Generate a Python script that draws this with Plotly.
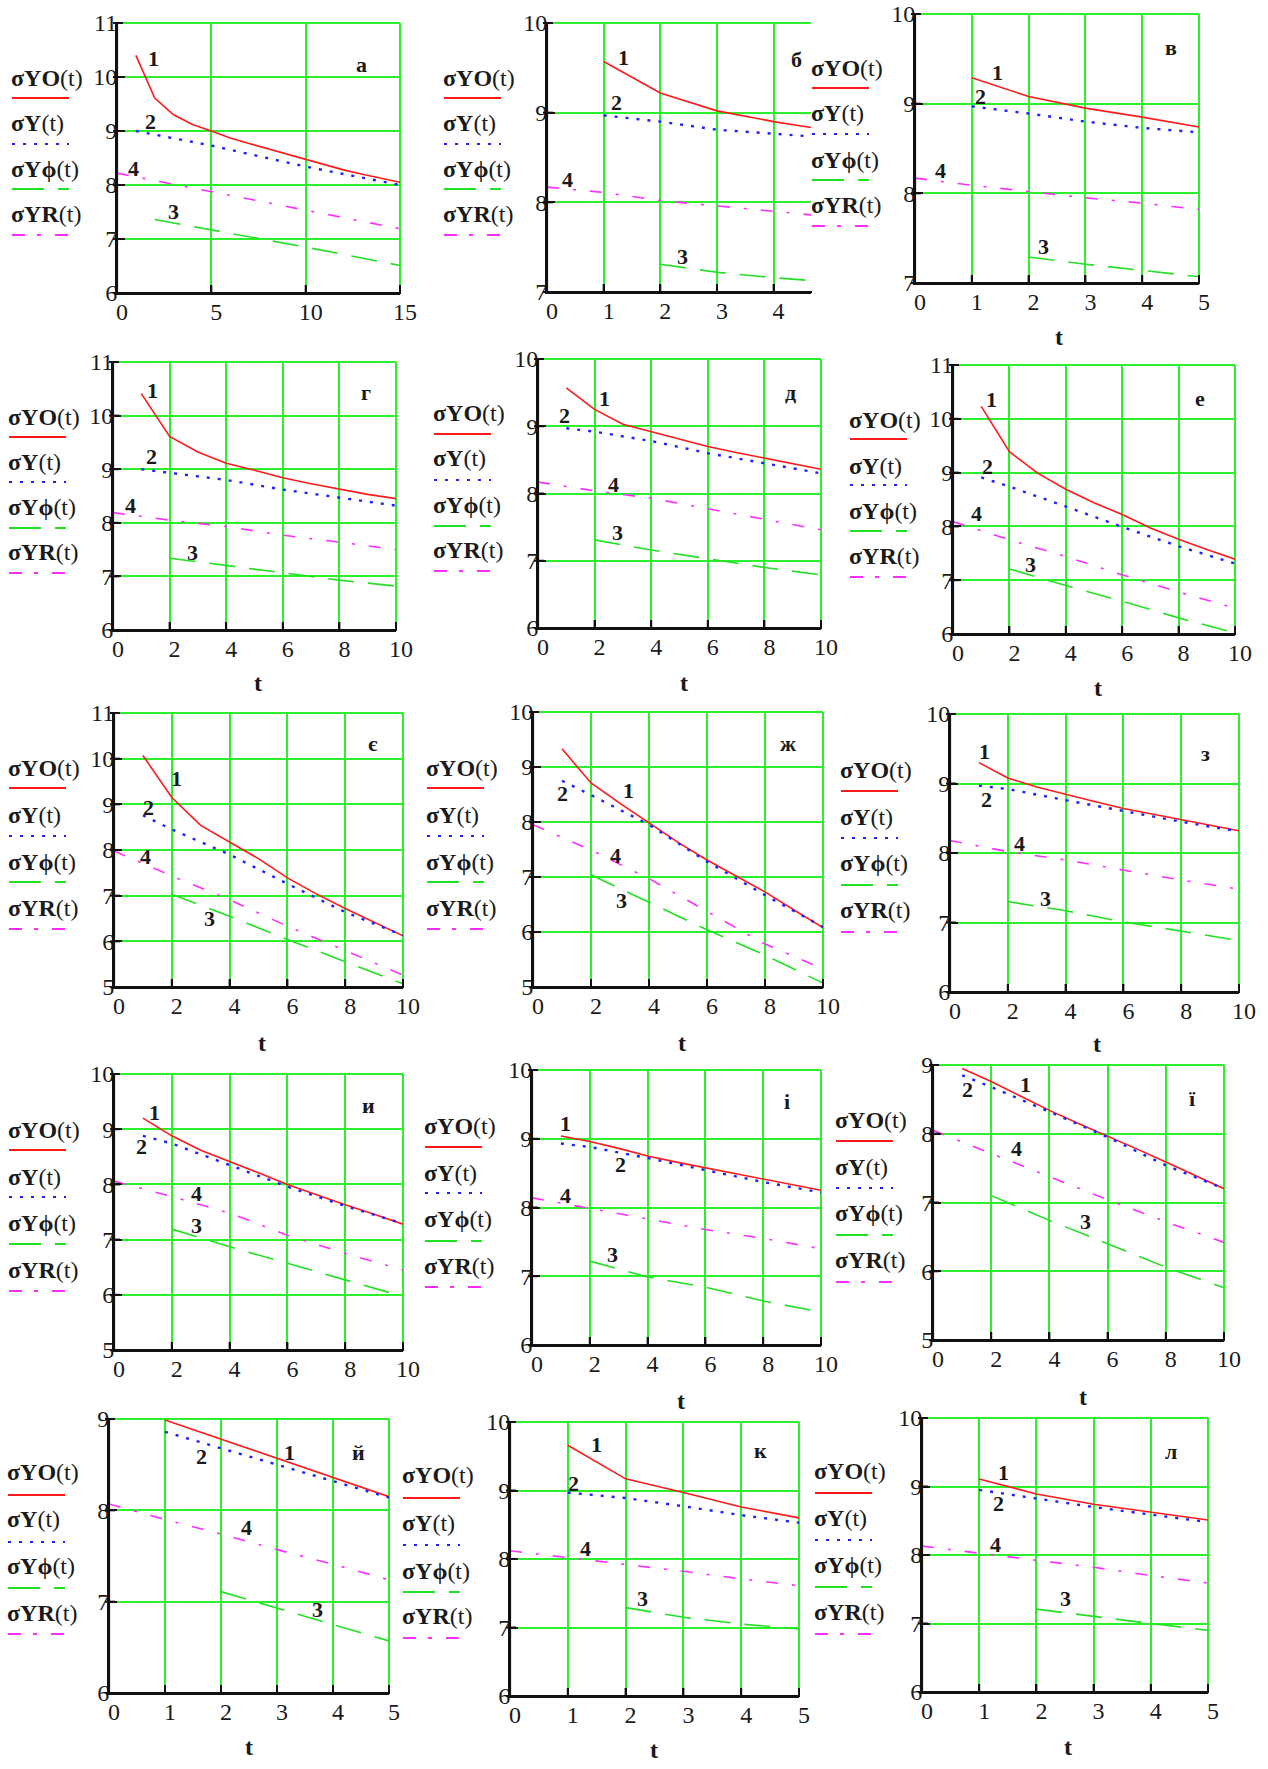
import plotly.graph_objects as go

# ---------------- data ----------------
PANEL_NAMES = ["а", "б", "в", "г", "д", "е", "є", "ж", "з", "и", "і", "ї", "й", "к", "л"]
SERIES_NAMES = ["σYO", "σY", "σYϕ", "σYR"]
CURVE_NUMBERS = ["1", "2", "3", "4"]

# time grids (t)
T1_5 = [1, 2, 3, 4, 5]
T0_5 = [0, 1, 2, 3, 4, 5]
T2_5 = [2, 3, 4, 5]
T1_10 = [1, 2, 3, 4, 5, 6, 7, 8, 9, 10]
T1_10E = [1, 2, 4, 6, 8, 10]
T0_10 = [0, 2, 4, 6, 8, 10]
T2_10 = [2, 4, 6, 8, 10]
T1_15 = [1, 2, 3, 4, 5, 6, 7, 8, 9, 10, 11, 12, 13, 14, 15]
T1_15B = [1, 5, 10, 15]
T0_15 = [0, 5, 10, 15]
T2_15 = [2, 5, 10, 15]

# panel а
a_yo = [10.40, 9.61, 9.30, 9.12, 9.00, 8.87, 8.77, 8.67, 8.57, 8.47, 8.37, 8.28, 8.20, 8.12, 8.05]
a_y = [9.00, 8.73, 8.34, 8.00]
a_yf = [7.36, 7.17, 6.85, 6.51]
a_yr = [8.22, 7.88, 7.53, 7.19]
# panel б
b_yo = [9.57, 9.22, 9.02, 8.90, 8.80]
b_y = [8.97, 8.90, 8.81, 8.76, 8.72]
b_yf = [7.31, 7.22, 7.16, 7.11]
b_yr = [8.17, 8.11, 8.02, 7.96, 7.90, 7.84]
# panel в
v_yo = [9.29, 9.08, 8.95, 8.85, 8.74]
v_y = [8.97, 8.89, 8.80, 8.73, 8.68]
v_yf = [7.29, 7.21, 7.14, 7.07]
v_yr = [8.17, 8.09, 8.02, 7.95, 7.89, 7.82]
# panel г
g_yo = [10.41, 9.61, 9.32, 9.11, 8.98, 8.84, 8.73, 8.63, 8.53, 8.45]
g_y = [9.00, 8.93, 8.80, 8.62, 8.47, 8.32]
g_yf = [7.34, 7.20, 7.06, 6.93, 6.82]
g_yr = [8.19, 8.05, 7.93, 7.77, 7.64, 7.50]
# panel д
d_yo = [9.57, 9.25, 9.03, 8.92, 8.81, 8.70, 8.61, 8.53, 8.44, 8.36]
d_y = [8.97, 8.92, 8.78, 8.60, 8.45, 8.30]
d_yf = [7.31, 7.16, 7.03, 6.90, 6.79]
d_yr = [8.17, 8.04, 7.93, 7.77, 7.61, 7.46]
# panel е
e_yo = [10.23, 9.39, 8.99, 8.69, 8.44, 8.22, 7.97, 7.76, 7.57, 7.39]
e_y = [8.91, 8.74, 8.37, 7.99, 7.63, 7.31]
e_yf = [7.21, 6.90, 6.61, 6.30, 6.02]
e_yr = [8.09, 7.75, 7.44, 7.10, 6.78, 6.48]
# panel є
ye_yo = [10.07, 9.15, 8.54, 8.18, 7.81, 7.39, 7.04, 6.72, 6.42, 6.12]
ye_y = [8.76, 8.45, 7.90, 7.26, 6.64, 6.13]
ye_yf = [7.03, 6.55, 6.04, 5.55, 5.07]
ye_yr = [7.98, 7.43, 6.91, 6.33, 5.80, 5.26]
# panel ж
zh_yo = [9.33, 8.71, 8.34, 7.98, 7.63, 7.31, 7.02, 6.73, 6.40, 6.08]
zh_y = [8.75, 8.49, 7.95, 7.28, 6.67, 6.09]
zh_yf = [7.04, 6.54, 6.04, 5.58, 5.07]
zh_yr = [7.95, 7.49, 6.97, 6.37, 5.78, 5.33]
# panel з
z_yo = [9.30, 9.08, 8.95, 8.84, 8.74, 8.64, 8.56, 8.48, 8.40, 8.32]
z_y = [8.97, 8.92, 8.76, 8.60, 8.45, 8.31]
z_yf = [7.30, 7.17, 7.01, 6.88, 6.74]
z_yr = [8.18, 8.02, 7.90, 7.75, 7.61, 7.48]
# panel и
i_yo = [9.20, 8.88, 8.62, 8.42, 8.21, 8.00, 7.81, 7.63, 7.46, 7.28]
i_y = [8.88, 8.74, 8.35, 7.96, 7.61, 7.29]
i_yf = [7.19, 6.87, 6.57, 6.27, 5.97]
i_yr = [8.06, 7.78, 7.48, 7.08, 6.75, 6.45]
# panel і
ii_yo = [9.04, 8.96, 8.86, 8.75, 8.66, 8.58, 8.50, 8.42, 8.33, 8.25]
ii_y = [8.93, 8.88, 8.72, 8.54, 8.37, 8.22]
ii_yf = [7.22, 6.99, 6.84, 6.64, 6.48]
ii_yr = [8.14, 7.99, 7.84, 7.68, 7.55, 7.40]
# panel ї
yi_yo = [8.95, 8.76, 8.55, 8.34, 8.15, 7.97, 7.78, 7.59, 7.39, 7.20]
yi_y = [8.85, 8.68, 8.32, 7.95, 7.54, 7.20]
yi_yf = [7.10, 6.74, 6.40, 6.06, 5.76]
yi_yr = [8.05, 7.71, 7.37, 7.04, 6.72, 6.42]
# panel й
j_yo = [8.99, 8.78, 8.57, 8.36, 8.15]
j_y = [8.86, 8.68, 8.50, 8.32, 8.14]
j_yf = [7.11, 6.93, 6.75, 6.57]
j_yr = [8.07, 7.90, 7.74, 7.57, 7.41, 7.24]
# panel к
k_yo = [9.66, 9.17, 8.97, 8.76, 8.60]
k_y = [8.97, 8.89, 8.77, 8.64, 8.53]
k_yf = [7.29, 7.15, 7.05, 6.98]
k_yr = [8.12, 8.02, 7.93, 7.82, 7.71, 7.61]
# panel л
l_yo = [9.11, 8.89, 8.74, 8.62, 8.51]
l_y = [8.95, 8.82, 8.70, 8.59, 8.48]
l_yf = [7.21, 7.10, 7.00, 6.90]
l_yr = [8.13, 8.03, 7.93, 7.82, 7.70, 7.59]

# ---------------- styling / geometry ----------------
W, H = 1268, 1769
SERIF = "Liberation Serif"
RED, BLUE, GREEN, MAGENTA = "#ff1a1a", "#2020ff", "#22e022", "#ff2cff"
GRID = "#2cf02c"
TXT = "#1a1a1a"
AXIS = "#111111"
TICK_SIZE = 24
LEG_SIZE = 24
NUM_SIZE = 22

LINE_STYLES = [
    dict(color=RED, width=1.6, dash="solid"),
    dict(color=BLUE, width=2.4, dash="3px,8px"),
    dict(color=GREEN, width=1.6, dash="26px,14px"),
    dict(color=MAGENTA, width=1.6, dash="12px,14px,3px,14px"),
]
LEGEND_DASH = ["solid", "3px,8px", "32px,14px", "13px,12px,4px,14px"]

S15 = lambda yo, y, yf, yr: [(T1_15, yo), (T1_15B, y), (T2_15, yf), (T0_15, yr)]
S5 = lambda yo, y, yf, yr: [(T1_5, yo), (T1_5, y), (T2_5, yf), (T0_5, yr)]
S10 = lambda yo, y, yf, yr: [(T1_10, yo), (T1_10E, y), (T2_10, yf), (T0_10, yr)]

panels = [
    dict(box=(117, 400, 23, 293), xr=[0, 15], dx=5, yr=[6, 11], ser=S15(a_yo, a_y, a_yf, a_yr),
         lab=[(1.96, 10.35), (1.8, 9.18), (3.0, 7.51), (0.9, 8.31)], let=(0.89, 0.90),
         leg=(15, [78, 123, 169, 214], [98, 144, 189, 235]), ttl=None, rb=True),
    dict(box=(547, 811, 23, 292), xr=[0, 4.66], dx=1, yr=[7, 10], ser=S5(b_yo, b_y, b_yf, b_yr),
         lab=[(1.35, 9.61), (1.22, 9.11), (2.4, 7.40), (0.36, 8.25)], let=(0.975, 0.92),
         leg=(447, [78, 123, 169, 214], [98, 144, 189, 235]), ttl=None, rb=False),
    dict(box=(915, 1199, 14, 283), xr=[0, 5], dx=1, yr=[7, 10], ser=S5(v_yo, v_y, v_yf, v_yr),
         lab=[(1.45, 9.35), (1.15, 9.08), (2.26, 7.41), (0.45, 8.26)], let=(0.93, 0.93),
         leg=(815, [68, 113, 160, 205], [88, 134, 180, 226]), ttl=(1059, 337), rb=True),
    dict(box=(113, 396, 362, 630), xr=[0, 10], dx=2, yr=[6, 11], ser=S10(g_yo, g_y, g_yf, g_yr),
         lab=[(1.39, 10.47), (1.35, 9.23), (2.8, 7.44), (0.62, 8.33)], let=(0.92, 0.94),
         leg=(12, [417, 462, 507, 552], [437, 482, 528, 573]), ttl=(258, 683), rb=True),
    dict(box=(538, 821, 359, 628), xr=[0, 10], dx=2, yr=[6, 10], ser=S10(d_yo, d_y, d_yf, d_yr),
         lab=[(2.35, 9.41), (0.94, 9.16), (2.82, 7.42), (2.68, 8.13)], let=(0.92, 0.93),
         leg=(437, [413, 458, 505, 550], [434, 480, 526, 571]), ttl=(684, 683), rb=True),
    dict(box=(953, 1235, 365, 634), xr=[0, 10], dx=2, yr=[6, 11], ser=S10(e_yo, e_y, e_yf, e_yr),
         lab=[(1.35, 10.35), (1.24, 9.12), (2.76, 7.29), (0.82, 8.24)], let=(0.90, 0.93),
         leg=(853, [420, 466, 511, 556], [439, 485, 531, 577]), ttl=(1098, 688), rb=True),
    dict(box=(114, 403, 713, 987), xr=[0, 10], dx=2, yr=[5, 11], ser=S10(ye_yo, ye_y, ye_yf, ye_yr),
         lab=[(2.16, 9.56), (1.21, 8.94), (3.29, 6.49), (1.08, 7.86)], let=(0.92, 0.94),
         leg=(12, [768, 815, 862, 908], [788, 836, 882, 929]), ttl=(262, 1043), rb=True),
    dict(box=(533, 823, 712, 987), xr=[0, 10], dx=2, yr=[5, 10], ser=S10(zh_yo, zh_y, zh_yf, zh_yr),
         lab=[(3.31, 8.58), (1.03, 8.51), (3.05, 6.58), (2.85, 7.39)], let=(0.915, 0.94),
         leg=(430, [768, 815, 862, 908], [788, 836, 882, 929]), ttl=(682, 1043), rb=True),
    dict(box=(950, 1239, 714, 992), xr=[0, 10], dx=2, yr=[6, 10], ser=S10(z_yo, z_y, z_yf, z_yr),
         lab=[(1.18, 9.46), (1.26, 8.77), (3.31, 7.35), (2.39, 8.13)], let=(0.905, 0.91),
         leg=(844, [770, 817, 863, 910], [791, 838, 885, 932]), ttl=(1097, 1044), rb=True),
    dict(box=(114, 403, 1074, 1350), xr=[0, 10], dx=2, yr=[5, 10], ser=S10(i_yo, i_y, i_yf, i_yr),
         lab=[(1.41, 9.30), (0.95, 8.68), (2.85, 7.25), (2.85, 7.84)], let=(0.91, 0.94),
         leg=(12, [1130, 1177, 1223, 1270], [1150, 1197, 1244, 1291]), ttl=None, rb=True),
    dict(box=(532, 821, 1070, 1345), xr=[0, 10], dx=2, yr=[6, 10], ser=S10(ii_yo, ii_y, ii_yf, ii_yr),
         lab=[(1.17, 9.22), (3.07, 8.62), (2.8, 7.32), (1.15, 8.18)], let=(0.90, 0.94),
         leg=(428, [1126, 1173, 1219, 1266], [1147, 1193, 1241, 1287]), ttl=(681, 1401), rb=True),
    dict(box=(933, 1224, 1065, 1340), xr=[0, 10], dx=2, yr=[5, 9], ser=S10(yi_yo, yi_y, yi_yf, yi_yr),
         lab=[(3.18, 8.72), (1.18, 8.65), (5.25, 6.72), (2.86, 7.79)], let=(0.91, 0.93),
         leg=(839, [1120, 1167, 1213, 1260], [1141, 1188, 1235, 1282]), ttl=(1083, 1397), rb=True),
    dict(box=(109, 389, 1419, 1693), xr=[0, 5], dx=1, yr=[6, 9], ser=S5(j_yo, j_y, j_yf, j_yr),
         lab=[(3.23, 8.63), (1.66, 8.59), (3.73, 6.91), (2.45, 7.81)], let=(0.92, 0.93),
         leg=(11, [1472, 1519, 1566, 1613], [1495, 1542, 1588, 1634]), ttl=(249, 1747), rb=True),
    dict(box=(510, 799, 1422, 1696), xr=[0, 5], dx=1, yr=[6, 10], ser=S5(k_yo, k_y, k_yf, k_yr),
         lab=[(1.5, 9.67), (1.1, 9.1), (2.29, 7.42), (1.3, 8.15)], let=(0.895, 0.95),
         leg=(406, [1475, 1523, 1571, 1616], [1498, 1545, 1592, 1638]), ttl=(654, 1750), rb=True),
    dict(box=(922, 1208, 1418, 1692), xr=[0, 5], dx=1, yr=[6, 10], ser=S5(l_yo, l_y, l_yf, l_yr),
         lab=[(1.43, 9.20), (1.33, 8.75), (2.5, 7.36), (1.28, 8.16)], let=(0.90, 0.93),
         leg=(818, [1471, 1518, 1565, 1612], [1493, 1540, 1587, 1634]), ttl=(1068, 1747), rb=True),
]

fig = go.Figure()
annotations = []
shapes = []
layout = {}


def pline(x0, y0, x1, y1, color, width=2.0, dash="solid", layer="above"):
    """line shape in pixel coordinates of the page (paper-referenced)"""
    return dict(type="line", xref="paper", yref="paper", x0=x0 / W, x1=x1 / W,
                y0=1 - y0 / H, y1=1 - y1 / H, layer=layer,
                line=dict(color=color, width=width, dash=dash))


for i, p in enumerate(panels):
    n = i + 1
    xs = "x" if n == 1 else f"x{n}"
    ys = "y" if n == 1 else f"y{n}"
    xk = "xaxis" if n == 1 else f"xaxis{n}"
    yk = "yaxis" if n == 1 else f"yaxis{n}"
    l, r, t, b = p["box"]
    common = dict(showgrid=True, gridcolor=GRID, gridwidth=2, automargin=False,
                  showline=True, linecolor=AXIS, linewidth=2, mirror=False,
                  ticks="inside", ticklen=8, tickwidth=2, tickcolor=AXIS,
                  zeroline=False, tick0=0, fixedrange=True,
                  tickfont=dict(family=SERIF, size=TICK_SIZE, color=TXT))
    layout[xk] = dict(common, domain=[l / W, r / W], range=p["xr"], dtick=p["dx"], anchor=ys,
                      ticklabelshift=5, ticklabelstandoff=-4)
    layout[yk] = dict(common, domain=[1 - b / H, 1 - t / H], range=p["yr"], dtick=1, anchor=xs,
                      ticklabelstandoff=-7)

    for k, (tt, vv) in enumerate(p["ser"]):
        fig.add_trace(go.Scatter(x=tt, y=vv, mode="lines", line=LINE_STYLES[k], xaxis=xs, yaxis=ys,
                                 showlegend=False, hoverinfo="skip", name=SERIES_NAMES[k]))

    # frame: green top/right border, dark left/bottom axes
    shapes.append(pline(l, t, r, t, GRID, layer="below"))
    if p["rb"]:
        shapes.append(pline(r, t, r, b, GRID, layer="below"))
    shapes.append(pline(l, t - 1, l, b + 1, AXIS, width=2.2))
    shapes.append(pline(l - 1, b, r + 1, b, AXIS, width=2.2))
    x0r, x1r = p["xr"]
    nx = int((x1r - x0r) // p["dx"])
    for j in range(nx + 1):
        px = l + (j * p["dx"]) / (x1r - x0r) * (r - l)
        shapes.append(pline(px, b + 1, px, b - 8, AXIS))
    y0r, y1r = p["yr"]
    for j in range(int(y1r - y0r) + 1):
        py = b - j / (y1r - y0r) * (b - t)
        shapes.append(pline(l - 4, py, l + 6, py, AXIS))

    # curve numbers
    for k, (lx, ly) in enumerate(p["lab"]):
        annotations.append(dict(x=lx, y=ly, xref=xs, yref=ys, text=f"<b>{CURVE_NUMBERS[k]}</b>",
                                showarrow=False, font=dict(family=SERIF, size=NUM_SIZE, color=TXT)))
    # panel letter
    annotations.append(dict(x=p["let"][0], y=p["let"][1], xref=f"{xs} domain", yref=f"{ys} domain",
                            text=f"<b>{PANEL_NAMES[i]}</b>", showarrow=False,
                            font=dict(family=SERIF, size=NUM_SIZE, color=TXT)))
    # legend texts + samples
    tx, tys, lys = p["leg"]
    for k in range(4):
        annotations.append(dict(x=(tx - 6) / W, y=1 - tys[k] / H, xref="paper", yref="paper",
                                xanchor="left", yanchor="middle", showarrow=False,
                                text=f"<b>{SERIES_NAMES[k]}</b>(t)",
                                font=dict(family=SERIF, size=LEG_SIZE, color=TXT)))
        shapes.append(pline(tx - 3, lys[k], tx + 54, lys[k], LINE_STYLES[k]["color"],
                            dash=LEGEND_DASH[k]))
    # axis title t
    if p["ttl"] is not None:
        annotations.append(dict(x=p["ttl"][0] / W, y=1 - p["ttl"][1] / H, xref="paper", yref="paper",
                                text="<b>t</b>", showarrow=False, xanchor="center", yanchor="middle",
                                font=dict(family=SERIF, size=LEG_SIZE, color=TXT)))

fig.update_layout(width=W, height=H, margin=dict(l=0, r=0, t=0, b=0, pad=0),
                  paper_bgcolor="white", plot_bgcolor="white",
                  annotations=annotations, shapes=shapes, **layout)

fig.write_html("out.html", config={"displayModeBar": False, "staticPlot": True},
               post_script="document.body.style.margin='0px';")
